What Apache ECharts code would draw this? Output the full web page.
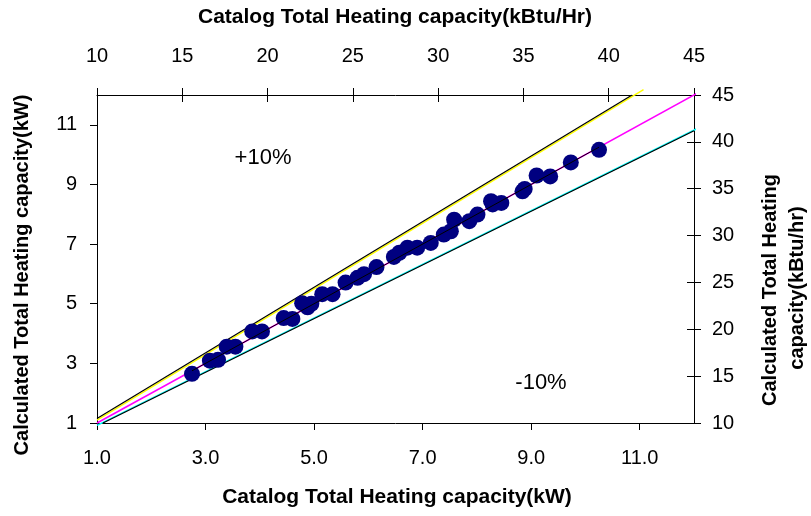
<!DOCTYPE html>
<html>
<head>
<meta charset="utf-8">
<script src="https://cdn.jsdelivr.net/npm/echarts@6/dist/echarts.min.js"></script>
<style>
html, body { margin: 0; padding: 0; background: #fff; }
#chart { width: 811px; height: 516px; }
</style>
</head>
<body>
<div id="chart"></div>
<script>
// measured points, kW
var catalogKW = [2.75, 3.08, 3.23, 3.39, 3.55, 3.86, 4.04, 4.44, 4.60, 4.78, 4.88, 4.95, 5.15, 5.34, 5.58, 5.80, 5.92, 6.15, 6.47, 6.57, 6.72, 6.90, 7.15, 7.39, 7.52, 7.58, 7.86, 8.01, 8.26, 8.29, 8.45, 8.84, 8.88, 9.10, 9.35, 9.73, 10.25];
var calcKW    = [2.65, 3.09, 3.12, 3.56, 3.56, 4.07, 4.07, 4.52, 4.49, 5.02, 4.88, 5.00, 5.32, 5.32, 5.71, 5.87, 5.99, 6.23, 6.57, 6.71, 6.88, 6.88, 7.04, 7.32, 7.43, 7.82, 7.77, 7.99, 8.44, 8.33, 8.38, 8.77, 8.85, 9.30, 9.27, 9.74, 10.16];

var kwTicks = [1, 3, 5, 7, 9, 11];

// reference lines, [x0, x1] / [y0, y1] in kW
var yellowX = [1, 11.07],   yellowY = [1.1, 12.18];
var plusX = [1, 10.86],     plusY = [1.15, 12];
var equalX = [1, 12.12],    equalY = [1, 12.12];
var fitX = [2.75, 10.25],   fitY = [2.75, 10.25];
var cyanX = [1, 12.15],     cyanY = [0.92, 10.96];
var minusX = [1.11, 12],    minusY = [1, 10.8];

var FONT = "'Liberation Sans', Arial, sans-serif";

function pairs(xs, ys) {
    var out = [];
    for (var i = 0; i < xs.length; i++) {
        out.push([xs[i], ys[i]]);
    }
    return out;
}

function refLine(name, xs, ys, color, width, clip, z) {
    return {
        name: name,
        type: 'line',
        data: pairs(xs, ys),
        showSymbol: false,
        symbol: 'none',
        clip: clip,
        z: z,
        silent: true,
        lineStyle: { color: color, width: width }
    };
}

function label(x, y, text, font, rot) {
    return {
        type: 'text', x: x, y: y, rotation: rot || 0,
        style: { text: text, font: font, fill: '#000', textAlign: 'center', textVerticalAlign: 'middle' }
    };
}

var dom = document.getElementById('chart');
var chart = echarts.init(dom);

var axisLine = { show: true, lineStyle: { color: '#000', width: 1 } };
var labelStyle = { color: '#000', fontSize: 20, fontFamily: FONT };
var titleFont = 'bold 20px ' + FONT;
var wideTitleFont = 'bold 21px ' + FONT;

var option = {
    backgroundColor: '#fff',
    animation: false,
    grid: { left: 97, top: 95, width: 597, height: 328 },
    xAxis: [
        {
            type: 'value', position: 'bottom', min: 1, max: 12,
            axisLine: axisLine,
            axisTick: { show: true, length: 7, customValues: kwTicks, lineStyle: { color: '#000' } },
            axisLabel: Object.assign({ margin: 25, customValues: kwTicks, formatter: function (v) { return v.toFixed(1); } }, labelStyle),
            splitLine: { show: false }
        },
        {
            type: 'value', position: 'top', min: 10, max: 45, interval: 5,
            axisLine: axisLine,
            axisTick: { show: true, length: 7, lineStyle: { color: '#000' } },
            axisLabel: Object.assign({ margin: 29 }, labelStyle),
            splitLine: { show: false }
        },
        {
            type: 'value', position: 'top', min: 10, max: 45, interval: 5,
            axisLine: { show: false },
            axisTick: { show: true, inside: true, length: 7, lineStyle: { color: '#000' } },
            axisLabel: { show: false },
            splitLine: { show: false }
        }
    ],
    yAxis: [
        {
            type: 'value', position: 'left', min: 1, max: 12,
            axisLine: axisLine,
            axisTick: { show: true, length: 7, customValues: kwTicks, lineStyle: { color: '#000' } },
            axisLabel: Object.assign({ margin: 20, customValues: kwTicks }, labelStyle),
            splitLine: { show: false }
        },
        {
            type: 'value', position: 'right', min: 10, max: 45, interval: 5,
            axisLine: axisLine,
            axisTick: { show: true, length: 7, lineStyle: { color: '#000' } },
            axisLabel: Object.assign({ margin: 18 }, labelStyle),
            splitLine: { show: false }
        },
        {
            type: 'value', position: 'right', min: 10, max: 45, interval: 5,
            axisLine: { show: false },
            axisTick: { show: true, inside: true, length: 7, lineStyle: { color: '#000' } },
            axisLabel: { show: false },
            splitLine: { show: false }
        }
    ],
    graphic: [
        label(395, 17, 'Catalog Total Heating capacity(kBtu/Hr)', wideTitleFont),
        label(397, 497, 'Catalog Total Heating capacity(kW)', wideTitleFont),
        label(22, 275, 'Calculated Total Heating capacity(kW)', titleFont, Math.PI / 2),
        label(770, 290, 'Calculated Total Heating', titleFont, Math.PI / 2),
        label(797, 288, 'capacity(kBtu/hr)', titleFont, Math.PI / 2),
        label(263, 158, '+10%', '22px ' + FONT),
        label(541, 383, '-10%', '22px ' + FONT)
    ],
    series: [
        refLine('yellow', yellowX, yellowY, '#ffff00', 1.5, false, 2),
        refLine('+10%', plusX, plusY, '#000', 1.2, true, 3),
        refLine('cyan', cyanX, cyanY, '#00ffff', 1.5, false, 2),
        refLine('-10%', minusX, minusY, '#000', 1.2, true, 3),
        refLine('1:1', equalX, equalY, '#ff00ff', 1.5, false, 2),
        {
            name: 'data',
            type: 'scatter',
            data: pairs(catalogKW, calcKW),
            symbol: 'circle',
            symbolSize: 16,
            z: 4,
            itemStyle: { color: '#000080', opacity: 1 }
        },
        refLine('fit', fitX, fitY, '#000', 1, true, 5)
    ]
};

chart.setOption(option);
window.addEventListener('resize', function () {
    chart.resize();
});
</script>
</body>
</html>
